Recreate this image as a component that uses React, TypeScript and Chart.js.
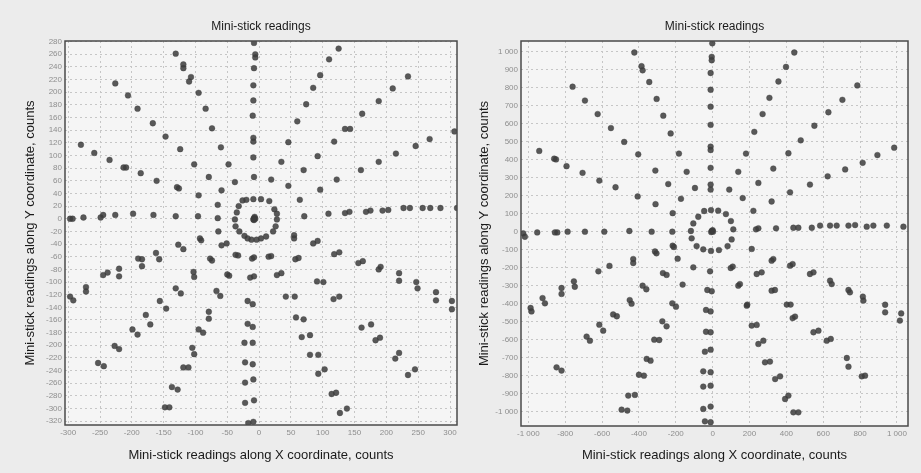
import React, { useEffect, useRef } from 'react';
import Chart from 'chart.js/auto';

const chartTitle = 'Mini-stick readings';
const xAxisTitle = 'Mini-stick readings along X coordinate, counts';
const yAxisTitle = 'Mini-stick readings along Y coordinate, counts';

// ---------- Left chart (small scale) ----------
const leftXLimits = [-305, 311];
const leftYLimits = [-326, 281];
const leftXStep = 50;
const leftYStep = 20;

const leftCenter: [number, number][] = [[-8, 1], [-7, 3], [-9, -1], [-6, 0], [-8, -2]];
const leftRing: [number, number][] = [
  [-38, -1], [-35, 10], [-32, 20], [-26, 29], [-20, 30], [-9, 31], [3, 31], [16, 28], [24, 15], [28, 8],
  [28, -1], [26, -12], [22, -20], [11, -28], [3, -31], [-4, -33], [-12, -33], [-18, -31], [-23, -27],
  [-31, -20], [-37, -12],
];
const leftUpper: [number, number][] = [
  [-8, 278], [-6, 260], [-6, 255], [-8, 238], [-9, 211], [-9, 187], [-10, 163], [-9, 128], [-9, 122], [-9, 97], [-8, 66],
  [-131, 261], [-119, 244], [-119, 238], [-107, 224], [-110, 217], [-95, 199], [-84, 174], [-74, 143], [-60, 113], [-48, 86], [-38, 58],
  [-226, 214], [-206, 195], [-191, 174], [-167, 151], [-147, 130], [-124, 110], [-102, 86], [-79, 66], [-59, 45],
  [-280, 117], [-259, 104], [-235, 93], [-213, 81], [-209, 81], [-186, 72], [-161, 60], [-129, 50], [-126, 48], [-95, 37], [-65, 22],
  [-297, 0], [-293, 0], [-276, 2], [-249, 2], [-245, 6], [-226, 6], [-198, 8], [-166, 6], [-131, 4], [-96, 4], [-65, 1],
  [125, 269], [110, 252], [96, 227], [85, 207], [74, 181], [60, 154], [46, 121], [35, 90], [19, 62],
  [234, 225], [210, 206], [188, 186], [162, 166], [135, 142], [143, 142], [118, 122], [92, 99], [70, 77], [46, 52],
  [307, 138], [268, 126], [246, 115], [215, 103], [188, 90], [160, 77], [122, 62], [96, 46], [64, 30],
  [311, 17], [285, 17], [269, 17], [257, 17], [237, 17], [227, 17], [203, 14], [194, 13], [175, 13], [168, 11], [142, 11], [135, 9], [109, 8], [71, 4],
];
const leftLower: [number, number][] = [
  [-17, -323], [-9, -321], [-22, -291], [-8, -287], [-22, -259], [-9, -254], [-22, -227], [-10, -230], [-23, -196], [-10, -196],
  [-18, -166], [-10, -171], [-18, -130], [-10, -135], [-14, -93], [-8, -91], [-11, -63], [-8, -61],
  [-148, -298], [-141, -298], [-137, -266], [-128, -270], [-119, -235], [-111, -235], [-105, -204], [-102, -214], [-95, -175],
  [-88, -180], [-79, -147], [-79, -158], [-67, -114], [-61, -122], [-50, -88], [-47, -90], [-37, -57], [-33, -58],
  [-253, -228], [-244, -233], [-227, -201], [-220, -206], [-199, -175], [-191, -183], [-178, -152], [-171, -167], [-156, -130],
  [-146, -142], [-131, -110], [-123, -118], [-103, -84], [-102, -92], [-77, -63], [-74, -66], [-59, -42], [-51, -39],
  [-297, -123], [-292, -129], [-272, -108], [-272, -115], [-245, -89], [-238, -85], [-220, -79], [-220, -91], [-190, -63],
  [-184, -64], [-184, -75], [-162, -54], [-157, -64], [-127, -41], [-119, -48], [-93, -31], [-91, -34], [-64, -20],
  [15, -60], [19, -59], [28, -89], [35, -86], [42, -123], [56, -123], [58, -156], [70, -159], [67, -187], [80, -184],
  [80, -215], [93, -215], [93, -245], [103, -238], [114, -277], [121, -275], [127, -307], [138, -300],
  [57, -64], [62, -62], [91, -99], [101, -100], [117, -127], [126, -123], [161, -172], [176, -167], [183, -192], [190, -188],
  [214, -221], [220, -212], [234, -247], [245, -238],
  [55, -26], [55, -31], [85, -39], [92, -35], [118, -56], [126, -53], [156, -70], [163, -67], [188, -80], [191, -76],
  [220, -86], [220, -98], [247, -100], [249, -110], [278, -116], [278, -129], [303, -130], [303, -143],
];

// ---------- Right chart (large scale) ----------
const rightXLimits = [-1040, 1060];
const rightYLimits = [-1080, 1060];
const rightXStep = 200;
const rightYStep = 100;

const rightCenter: [number, number][] = [[-5, 4], [0, 8], [-8, -2], [2, 0]];
const rightRing: [number, number][] = [
  [-78, 83], [-46, 115], [-9, 120], [30, 117], [72, 98], [99, 59], [112, 13], [103, -43], [81, -80], [34, -102],
  [-9, -107], [-51, -98], [-87, -80], [-114, -37], [-118, 4], [-105, 46],
];
const rightUpper: [number, number][] = [
  [-2, 1047], [-5, 972], [-5, 953], [-11, 882], [-11, 789], [-11, 695], [-11, 594], [-11, 473], [-11, 454], [-11, 355], [-11, 262], [-11, 234],
  [-425, 996], [-386, 920], [-380, 897], [-344, 832], [-304, 738], [-268, 645], [-228, 546], [-183, 434], [-141, 333], [-96, 243],
  [-760, 806], [-693, 729], [-624, 654], [-552, 576], [-480, 499], [-404, 430], [-311, 340], [-241, 265], [-172, 183],
  [-941, 449], [-860, 406], [-850, 402], [-793, 364], [-706, 327], [-615, 284], [-527, 247], [-407, 196], [-310, 153], [-217, 103],
  [-1028, -9], [-1019, -28], [-952, -4], [-856, -4], [-843, -4], [-787, 0], [-693, 0], [-588, 0], [-452, 4], [-331, 0], [-219, 0],
  [443, 996], [398, 916], [357, 835], [308, 744], [271, 654], [226, 555], [181, 434], [139, 333], [90, 234],
  [785, 813], [704, 733], [628, 664], [552, 589], [478, 508], [411, 436], [329, 351], [248, 271], [163, 187],
  [985, 467], [894, 426], [814, 383], [719, 346], [624, 308], [528, 262], [420, 219], [320, 168], [221, 116],
  [235, 13], [248, 19], [344, 19], [438, 22], [465, 22], [538, 22], [583, 34], [637, 34], [673, 34], [737, 34], [773, 37],
  [836, 28], [872, 34], [945, 34], [1035, 28],
];
const rightLower: [number, number][] = [
  [-42, -1054], [-11, -1059], [-51, -985], [-11, -972], [-51, -861], [-11, -856], [-51, -776], [-11, -781], [-42, -667],
  [-11, -656], [-36, -556], [-11, -559], [-36, -435], [-11, -443], [-29, -324], [-5, -331], [-14, -220],
  [-494, -989], [-463, -994], [-458, -911], [-422, -907], [-400, -795], [-373, -800], [-358, -707], [-337, -717], [-317, -600],
  [-290, -602], [-273, -498], [-250, -526], [-219, -398], [-199, -417], [-163, -294], [-105, -198],
  [-847, -754], [-820, -772], [-684, -583], [-666, -606], [-615, -517], [-594, -550], [-540, -460], [-520, -470],
  [-450, -380], [-440, -400], [-380, -300], [-360, -320], [-270, -230], [-250, -240], [-190, -150],
  [-988, -424], [-983, -443], [-923, -369], [-910, -398], [-820, -313], [-820, -346], [-753, -276], [-748, -306],
  [-620, -220], [-560, -190], [-431, -152], [-431, -174], [-313, -110], [-305, -120], [-217, -78], [-210, -85],
  [98, -202], [109, -194], [139, -300], [148, -291], [185, -411], [188, -405], [212, -522], [239, -518], [248, -624],
  [275, -606], [284, -726], [311, -722], [339, -819], [366, -804], [393, -930], [411, -911], [438, -1004], [465, -1004],
  [239, -235], [266, -226], [320, -328], [338, -324], [402, -405], [423, -405], [434, -480], [447, -472], [547, -559],
  [574, -550], [619, -606], [641, -596], [728, -702], [737, -750], [809, -804], [827, -800],
  [212, -96], [320, -161], [329, -152], [420, -189], [434, -180], [528, -235], [547, -226], [637, -272], [646, -291],
  [737, -324], [745, -337], [815, -361], [818, -383], [936, -406], [936, -448], [1016, -494], [1023, -454],
];

const FONT = "'Liberation Sans', Arial, sans-serif";

const spaced = (v: number) => {
  const s = Math.abs(v).toString().replace(/\B(?=(\d{3})+(?!\d))/g, ' ');
  return (v < 0 ? '-' : '') + s;
};

const framePlugin = {
  id: 'frame',
  beforeDraw(chart: any) {
    const { ctx, chartArea, width, height } = chart;
    ctx.save();
    ctx.fillStyle = '#ececec';
    ctx.fillRect(0, 0, width, height);
    ctx.fillStyle = '#f5f5f5';
    ctx.fillRect(chartArea.left, chartArea.top, chartArea.right - chartArea.left, chartArea.bottom - chartArea.top);
    ctx.restore();
  },
  afterDraw(chart: any) {
    const { ctx, chartArea } = chart;
    ctx.save();
    ctx.strokeStyle = '#4a4a4a';
    ctx.lineWidth = 1.5;
    ctx.strokeRect(chartArea.left, chartArea.top, chartArea.right - chartArea.left, chartArea.bottom - chartArea.top);
    ctx.restore();
  },
};

type Cfg = {
  points: [number, number][];
  xLim: number[];
  yLim: number[];
  xStep: number;
  yStep: number;
  yAxisWidth: number;
  yTitlePad: number;
  padRight: number;
  xAxisHeight: number;
  fmt: (v: number) => string;
};

function makeConfig(c: Cfg): any {
  const tickFont = { family: FONT, size: 8 };
  const titleFont = { family: FONT, size: 13 };
  return {
    type: 'scatter',
    data: {
      datasets: [
        {
          data: c.points.map(([x, y]) => ({ x, y })),
          backgroundColor: 'rgba(60,60,60,0.85)',
          borderColor: 'rgba(60,60,60,0.45)',
          borderWidth: 0.8,
          pointRadius: 2.9,
        },
      ],
    },
    options: {
      animation: false,
      responsive: false,
      maintainAspectRatio: false,
      layout: { padding: { left: 0, right: c.padRight, top: 0, bottom: 10 } },
      plugins: {
        legend: { display: false },
        tooltip: { enabled: false },
        title: {
          display: true,
          text: chartTitle,
          fullSize: false,
          color: '#1a1a1a',
          font: { family: FONT, size: 12, weight: 'normal' },
          padding: { top: 19, bottom: 7.6 },
        },
      },
      scales: {
        x: {
          type: 'linear',
          min: c.xLim[0],
          max: c.xLim[1],
          afterFit: (s: any) => { s.height = c.xAxisHeight; },
          ticks: {
            stepSize: c.xStep,
            includeBounds: false,
            autoSkip: false,
            maxRotation: 0,
            color: '#8e8e8e',
            font: tickFont,
            padding: 3,
            callback: (v: any) => c.fmt(Number(v)),
          },
          grid: { color: '#c6c6c6', lineWidth: 1, drawTicks: false },
          border: { display: false, dash: [2, 3] },
          title: { display: true, text: xAxisTitle, color: '#1a1a1a', font: titleFont, padding: { top: 0, bottom: 0 } },
        },
        y: {
          type: 'linear',
          min: c.yLim[0],
          max: c.yLim[1],
          afterFit: (s: any) => { s.width = c.yAxisWidth; },
          ticks: {
            stepSize: c.yStep,
            includeBounds: false,
            autoSkip: false,
            color: '#8e8e8e',
            font: tickFont,
            padding: 3,
            callback: (v: any) => c.fmt(Number(v)),
          },
          grid: { color: '#c6c6c6', lineWidth: 1, drawTicks: false },
          border: { display: false, dash: [2, 3] },
          title: { display: true, text: yAxisTitle, color: '#1a1a1a', font: titleFont, padding: { top: c.yTitlePad, bottom: 0 } },
        },
      },
    },
    plugins: [framePlugin],
  };
}

function ScatterPanel(props: { cfg: Cfg; left: number; width: number }) {
  const ref = useRef<HTMLCanvasElement>(null);
  useEffect(() => {
    if (!ref.current) return;
    const chart = new Chart(ref.current, makeConfig(props.cfg));
    return () => chart.destroy();
  }, []);
  return (
    <canvas
      ref={ref}
      width={props.width}
      height={473}
      style={{ position: 'absolute', left: props.left, top: 0, width: props.width, height: 473 }}
    />
  );
}

export default function App() {
  const leftCfg: Cfg = {
    points: [...leftCenter, ...leftRing, ...leftUpper, ...leftLower],
    xLim: leftXLimits,
    yLim: leftYLimits,
    xStep: leftXStep,
    yStep: leftYStep,
    yAxisWidth: 65,
    yTitlePad: 23,
    padRight: 8,
    xAxisHeight: 38,
    fmt: (v) => String(v),
  };
  const rightCfg: Cfg = {
    points: [...rightCenter, ...rightRing, ...rightUpper, ...rightLower],
    xLim: rightXLimits,
    yLim: rightYLimits,
    xStep: rightXStep,
    yStep: rightYStep,
    yAxisWidth: 56,
    yTitlePad: 12,
    padRight: 13,
    xAxisHeight: 37,
    fmt: spaced,
  };
  return (
    <div style={{ position: 'fixed', left: 0, top: 0, width: 921, height: 473, background: '#ececec', overflow: 'hidden' }}>
      <ScatterPanel cfg={leftCfg} left={0} width={465} />
      <ScatterPanel cfg={rightCfg} left={465} width={456} />
    </div>
  );
}
